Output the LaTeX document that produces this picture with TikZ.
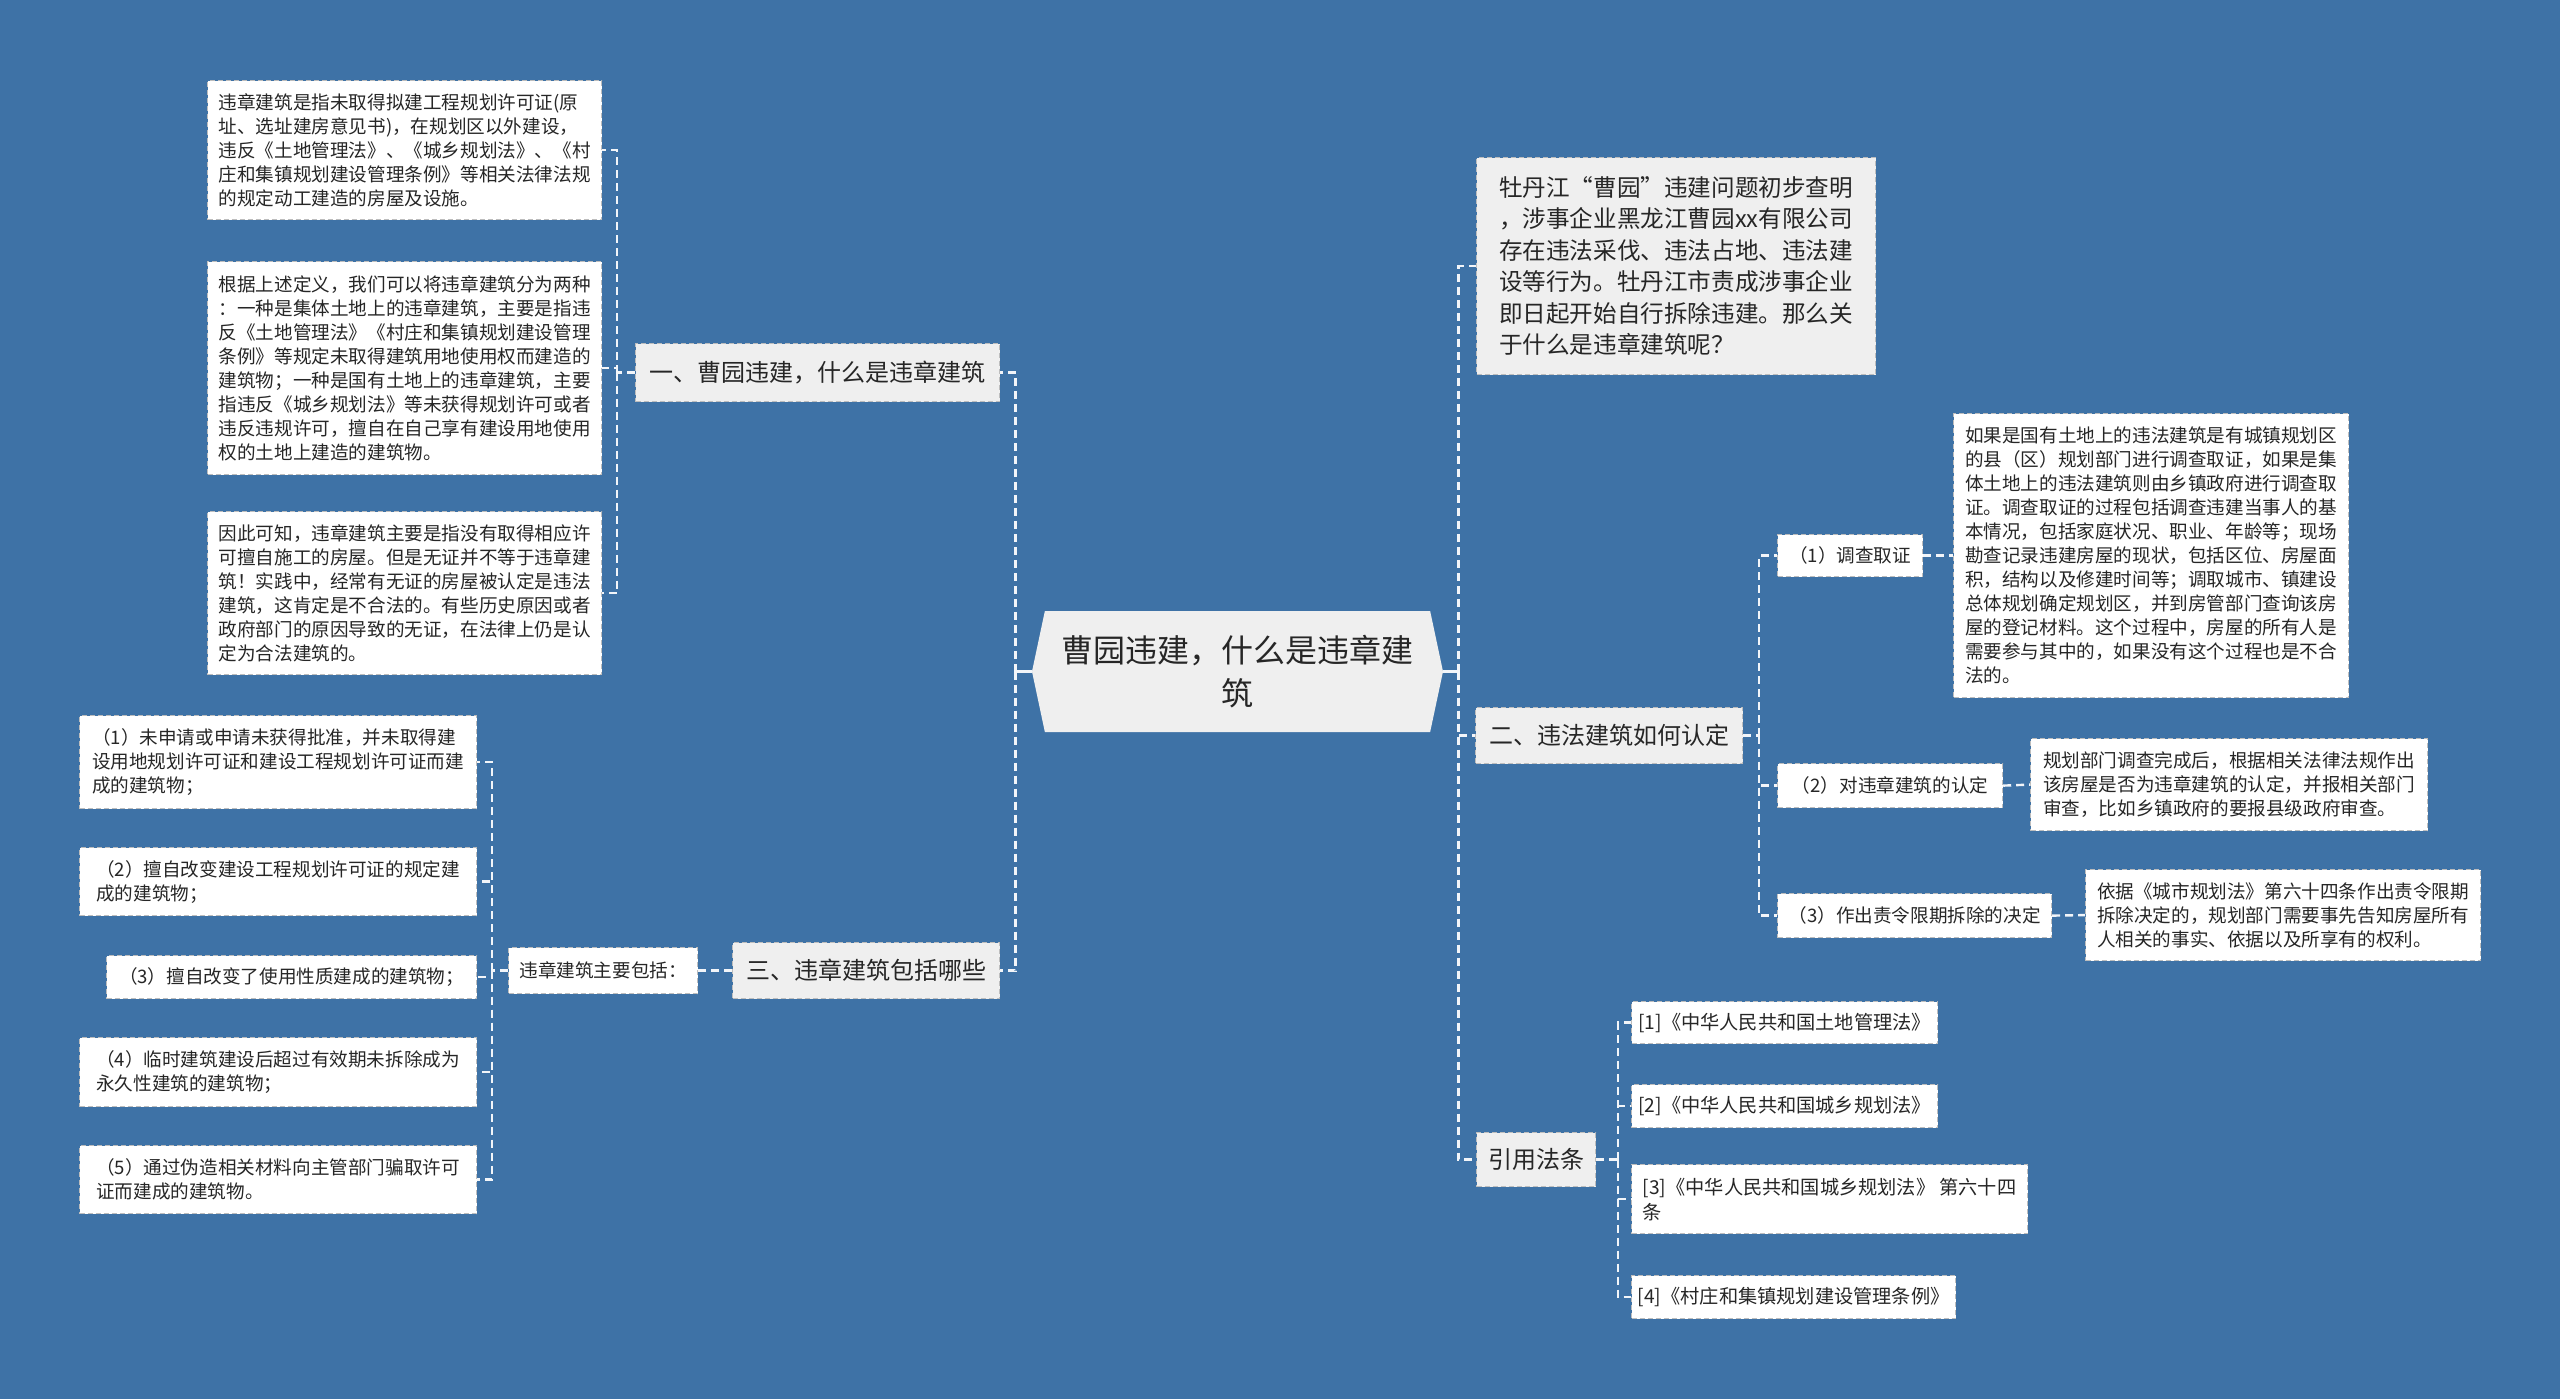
\documentclass[tikz,border=0pt]{standalone}
\usepackage{fontspec}
\setmainfont{Noto Sans CJK SC}
\usetikzlibrary{positioning,shapes.symbols}

\definecolor{bgblue}{HTML}{3E72A6}
\definecolor{hubgrey}{HTML}{EFEFEF}
\definecolor{edgec}{HTML}{BDBDBD}
\definecolor{wirec}{HTML}{F2F5F9}
\definecolor{ink}{HTML}{262626}

\begin{document}
\begin{tikzpicture}[x=0.5pt, y=-0.5pt,
  box/.style={draw=edgec, dash pattern=on 2.5pt off 1.5pt, line width=0.6pt, text=ink, inner sep=2pt, anchor=north west},
  leaf/.style={box, fill=white, align=left, font=\fontsize{9.3}{12}\selectfont},
  lawref/.style={leaf, font=\fontsize{9.6}{12.5}\selectfont},
  hub/.style={box, fill=hubgrey, align=left, font=\fontsize{12}{15.75}\selectfont},
  link/.style={draw=wirec, line width=1.2pt, dash pattern=on 4pt off 2.5pt},
  trunk/.style={draw=wirec, line width=1.5pt}]

  \useasboundingbox (0,0) rectangle (2560,1398);
  \fill[bgblue] (-10,-10) rectangle (2570,1408);

  % centre
  \node[shape=signal, signal to=west and east, signal pointer angle=156, fill=hubgrey, text=ink,
    minimum width=205.5pt, minimum height=60.5pt, inner sep=2pt, align=center,
    font=\fontsize{16}{21.5}\selectfont] (root) at (1237.5,671.5) {曹园违建，什么是违章建\\筑};

  % left: part one
  \node[hub, minimum width=182pt, minimum height=29pt] (sec1) at (635,343) {一、曹园违建，什么是违章建筑};
  \node[leaf, minimum width=197pt, minimum height=69.5pt] (d1) at (207,80) {违章建筑是指未取得拟建工程规划许可证(原\\址、选址建房意见书)，在规划区以外建设，\\违反《土地管理法》、《城乡规划法》、《村\\庄和集镇规划建设管理条例》等相关法律法规\\的规定动工建造的房屋及设施。};
  \node[leaf, minimum width=197pt, minimum height=106.5pt] (d2) at (207,261) {根据上述定义，我们可以将违章建筑分为两种\\：一种是集体土地上的违章建筑，主要是指违\\反《土地管理法》《村庄和集镇规划建设管理\\条例》等规定未取得建筑用地使用权而建造的\\建筑物；一种是国有土地上的违章建筑，主要\\指违反《城乡规划法》等未获得规划许可或者\\违反违规许可，擅自在自己享有建设用地使用\\权的土地上建造的建筑物。};
  \node[leaf, minimum width=197pt, minimum height=81.5pt] (d3) at (207,511) {因此可知，违章建筑主要是指没有取得相应许\\可擅自施工的房屋。但是无证并不等于违章建\\筑！实践中，经常有无证的房屋被认定是违法\\建筑，这肯定是不合法的。有些历史原因或者\\政府部门的原因导致的无证，在法律上仍是认\\定为合法建筑的。};

  % left: part three
  \node[hub, minimum width=133.5pt, minimum height=28pt] (sec3) at (732,942) {三、违章建筑包括哪些};
  \node[leaf, minimum width=94.5pt, minimum height=23pt] (inc) at (508,947) {违章建筑主要包括：};
  \node[leaf, minimum width=198.5pt, minimum height=46.5pt] (l1) at (79,715) {（1）未申请或申请未获得批准，并未取得建\\设用地规划许可证和建设工程规划许可证而建\\成的建筑物；};
  \node[leaf, minimum width=198.5pt, minimum height=34pt] (l2) at (79,847) {（2）擅自改变建设工程规划许可证的规定建\\成的建筑物；};
  \node[leaf, minimum width=185pt, minimum height=21.5pt] (l3) at (106,955) {（3）擅自改变了使用性质建成的建筑物；};
  \node[leaf, minimum width=198.5pt, minimum height=34.5pt] (l4) at (79,1037) {（4）临时建筑建设后超过有效期未拆除成为\\永久性建筑的建筑物；};
  \node[leaf, minimum width=198.5pt, minimum height=34pt] (l5) at (79,1145) {（5）通过伪造相关材料向主管部门骗取许可\\证而建成的建筑物。};

  % right
  \node[hub, minimum width=199.5pt, minimum height=108.5pt, font=\fontsize{11.8}{15.75}\selectfont] (intro) at (1476,157) {牡丹江“曹园”违建问题初步查明\\，涉事企业黑龙江曹园xx有限公司\\存在违法采伐、违法占地、违法建\\设等行为。牡丹江市责成涉事企业\\即日起开始自行拆除违建。那么关\\于什么是违章建筑呢？};
  \node[hub, minimum width=133.5pt, minimum height=28pt] (sec2) at (1475,707) {二、违法建筑如何认定};
  \node[leaf, minimum width=72.5pt, minimum height=21pt] (c1) at (1777,534) {（1）调查取证};
  \node[leaf, minimum width=197.5pt, minimum height=142pt] (c1t) at (1953,413) {如果是国有土地上的违法建筑是有城镇规划区\\的县（区）规划部门进行调查取证，如果是集\\体土地上的违法建筑则由乡镇政府进行调查取\\证。调查取证的过程包括调查违建当事人的基\\本情况，包括家庭状况、职业、年龄等；现场\\勘查记录违建房屋的现状，包括区位、房屋面\\积，结构以及修建时间等；调取城市、镇建设\\总体规划确定规划区，并到房管部门查询该房\\屋的登记材料。这个过程中，房屋的所有人是\\需要参与其中的，如果没有这个过程也是不合\\法的。};
  \node[leaf, minimum width=112.5pt, minimum height=22pt] (c2) at (1777,763) {（2）对违章建筑的认定};
  \node[leaf, minimum width=198.5pt, minimum height=46pt] (c2t) at (2030,738) {规划部门调查完成后，根据相关法律法规作出\\该房屋是否为违章建筑的认定，并报相关部门\\审查，比如乡镇政府的要报县级政府审查。};
  \node[leaf, minimum width=137pt, minimum height=22pt] (c3) at (1777,893) {（3）作出责令限期拆除的决定};
  \node[leaf, minimum width=197.5pt, minimum height=45.5pt] (c3t) at (2085,869) {依据《城市规划法》第六十四条作出责令限期\\拆除决定的，规划部门需要事先告知房屋所有\\人相关的事实、依据以及所享有的权利。};

  \node[hub, minimum width=59.5pt, minimum height=27pt] (refs) at (1476,1132) {引用法条};
  \node[lawref, minimum width=153pt, minimum height=21pt] (r1) at (1631,1001) {[1]《中华人民共和国土地管理法》};
  \node[lawref, minimum width=153pt, minimum height=21.5pt] (r2) at (1631,1084) {[2]《中华人民共和国城乡规划法》};
  \node[lawref, minimum width=198pt, minimum height=34.5pt] (r3) at (1631,1164) {[3]《中华人民共和国城乡规划法》 第六十四\\条};
  \node[lawref, minimum width=162pt, minimum height=21.5pt] (r4) at (1631,1275) {[4]《村庄和集镇规划建设管理条例》};

  % junctions
  \coordinate[left=8pt of root.west] (j0);
  \coordinate[right=7.5pt of root.east] (j2);
  \coordinate[left=9pt of sec1.west] (j1);
  \coordinate[left=8pt of inc.west] (j3);
  \coordinate[right=8pt of sec2.east] (j4);
  \coordinate[right=11pt of refs.east] (j5);

  \draw[trunk] (root.west) -- (j0);
  \draw[trunk] (root.east) -- (j2);
  \foreach \n in {sec1,sec3} \draw[link] (j0) |- (\n.east);
  \foreach \n in {intro,sec2,refs} \draw[link] (j2) |- (\n.west);

  \draw[link] (sec1.west) -- (j1);
  \foreach \n in {d1,d2,d3} \draw[link] (j1) |- (\n.east);

  \draw[link] (sec3.west) -- (inc.east);
  \draw[link] (inc.west) -- (j3);
  \foreach \n in {l1,l2,l3,l4,l5} \draw[link] (j3) |- (\n.east);

  \draw[link] (sec2.east) -- (j4);
  \foreach \n in {c1,c2,c3} \draw[link] (j4) |- (\n.west);
  \draw[link] (c1.east) -- (c1t.west);
  \draw[link] (c2.east) -- (c2t.west);
  \draw[link] (c3.east) -- (c3t.west);

  \draw[link] (refs.east) -- (j5);
  \foreach \n in {r1,r2,r3,r4} \draw[link] (j5) |- (\n.west);
\end{tikzpicture}
\end{document}
